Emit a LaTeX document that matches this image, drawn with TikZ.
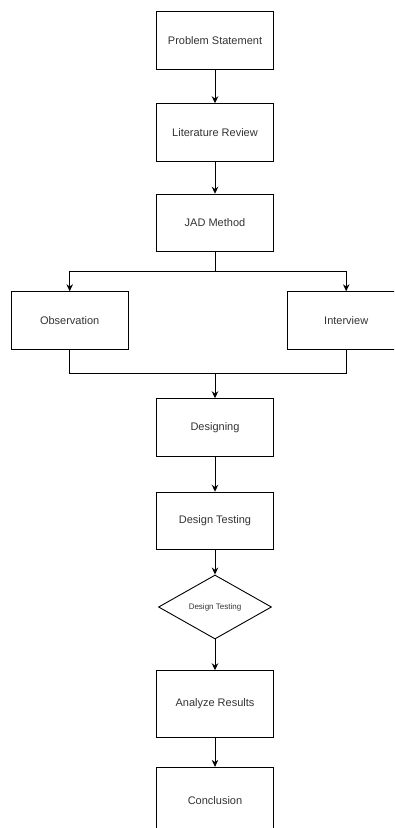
\documentclass[tikz,border=0pt]{standalone}
\usepackage{fontspec}
\setmainfont{Liberation Sans}
\usetikzlibrary{arrows.meta,shapes.geometric}
\definecolor{txt}{HTML}{333333}
\begin{document}
\begin{tikzpicture}[x=1pt,y=-1pt,
  box/.style={draw=black,line width=0.9pt,fill=white,minimum width=116.6pt,minimum height=57.6pt,inner sep=0pt,font=\fontsize{11}{13}\selectfont,text=txt},
  dec/.style={draw=black,line width=0.9pt,fill=white,diamond,aspect=1.77,minimum width=113pt,minimum height=64pt,inner sep=0pt,font=\fontsize{8}{10}\selectfont,text=txt},
  conn/.style={draw=black,line width=0.9pt,-{Stealth[length=7pt,width=6.5pt]}},
  plain/.style={draw=black,line width=0.9pt}]
\useasboundingbox (0,0) rectangle (394,828);
\clip (0,0) rectangle (394,828);
\node[box] (ps) at (215,40.5) {Problem Statement};
\node[box] (lr) at (215,132.5) {Literature Review};
\node[box] (jad) at (215,223) {JAD Method};
\node[box] (obs) at (69.7,320.5) {Observation};
\node[box] (int) at (346.2,320.5) {Interview};
\node[box] (des) at (215,427.5) {Designing};
\node[box] (dt) at (215,521) {Design Testing};
\node[dec] (dia) at (215,607) {Design Testing};
\node[box,minimum height=66.6pt] (ar) at (215,704) {Analyze Results};
\node[box,minimum height=66.6pt] (con) at (215,800.6) {Conclusion};
\coordinate (split) at (215,271.7);
\coordinate (join) at (215,373.3);
\draw[conn] (ps) -- (lr);
\draw[conn] (lr) -- (jad);
\draw[plain] (jad) -- (split);
\draw[conn] (split) -| (obs);
\draw[conn] (split) -| (int);
\draw[plain] (obs) |- (join);
\draw[plain] (int) |- (join);
\draw[conn] (join) -- (des);
\draw[conn] (des) -- (dt);
\draw[conn] (dt) -- (dia);
\draw[conn] (dia) -- (ar);
\draw[conn] (ar) -- (con);
\end{tikzpicture}
\end{document}
